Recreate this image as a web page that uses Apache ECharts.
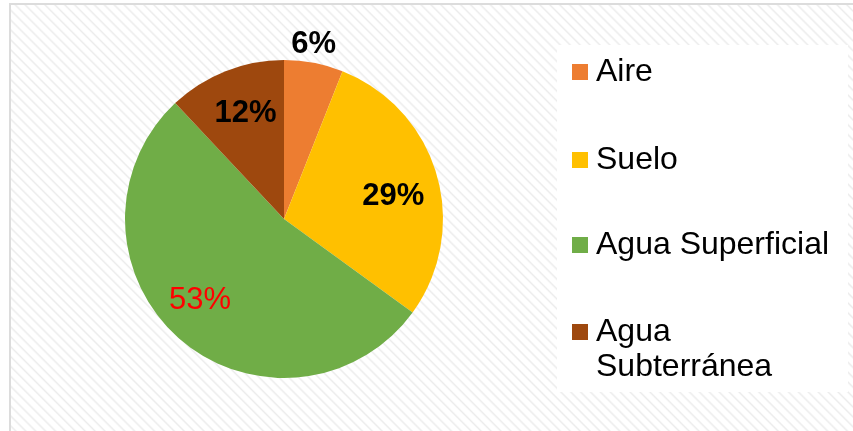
<!DOCTYPE html>
<html>
<head>
<meta charset="utf-8">
<script src="https://cdn.jsdelivr.net/npm/echarts@6/dist/echarts.min.js"></script>
<style>
  html, body { margin: 0; padding: 0; background: #ffffff; }
  #wrap { position: relative; width: 853px; height: 431px; overflow: hidden; }
  #bg {
    position: absolute; left: 9px; top: 3px; width: 870px; height: 450px;
    border: 2px solid #dcdcdc; box-sizing: border-box;
    background: repeating-linear-gradient(45deg, #ffffff 0px, #ffffff 2px, #ececec 3.5px, #ffffff 5px, #ffffff 7px);
  }
  #chart { position: absolute; left: 0; top: 0; width: 853px; height: 431px; }
</style>
</head>
<body>
<div id="wrap">
  <div id="bg"></div>
  <div id="chart"></div>
</div>
<script>
// ---- Data ----
const categories = ['Aire', 'Suelo', 'Agua Superficial', 'Agua Subterránea'];
const values = [6, 29, 53, 12];
const legendLabels = ['Aire', 'Suelo', 'Agua Superficial', 'Agua\nSubterránea'];

// ---- Styles ----
const palette = ['#ED7D31', '#FFC000', '#70AD47', '#9E480E'];
const FONT = '"Liberation Sans", Arial, sans-serif';
const center = [284, 219];
const pieRadius = 159;
// small label nudges (Excel "best fit" placement), in px
const labelNudge = [[-4, 2], [-4, 10], [-6, -7], [5, 4]];

const chart = echarts.init(document.getElementById('chart'), null, { renderer: 'canvas' });

const mainData = categories.map((name, i) => ({
  name: name, value: values[i], itemStyle: { color: palette[i] }
}));

const boldLabel = { color: '#000000', fontFamily: FONT, fontSize: 31, fontWeight: 'bold' };
const redLabel = { color: '#FF0000', fontFamily: FONT, fontSize: 31, fontWeight: 'normal' };

const innerLabelData = categories.map((name, i) => ({
  name: name, value: values[i],
  label: i === 0 ? { show: false } : Object.assign({ show: true }, i === 2 ? redLabel : boldLabel)
}));
const outerLabelData = categories.map((name, i) => ({
  name: name, value: values[i],
  label: i === 0 ? Object.assign({ show: true }, boldLabel) : { show: false }
}));

const iconTops = [64, 152, 237, 324];
const LH = 35;
const legends = categories.map((name, i) => {
  const multi = legendLabels[i].indexOf('\n') >= 0;
  const text = multi ? ' \n' + legendLabels[i] : legendLabels[i];
  const nLines = text.split('\n').length;
  const offset = nLines * LH / 2 - 8;
  return {
    show: true,
    orient: 'vertical',
    left: 572,
    top: iconTops[i] - offset,
    padding: 0,
    itemWidth: 16,
    itemHeight: 16,
    icon: 'rect',
    selectedMode: false,
    data: [name],
    formatter: function () { return text; },
    textStyle: {
      color: '#000000', fontFamily: FONT, fontSize: 32,
      lineHeight: LH, padding: [0, 0, 0, 3]
    }
  };
});

const transparentItem = { color: 'rgba(0,0,0,0)', borderWidth: 0 };
const nudge = function (params) {
  const n = labelNudge[params.dataIndex];
  return { dx: n[0], dy: n[1] };
};

chart.setOption({
  animation: false,
  backgroundColor: 'transparent',
  graphic: [{
    type: 'rect', z: -1, silent: true,
    shape: { x: 557, y: 45, width: 291, height: 347 },
    style: { fill: '#ffffff' }
  }],
  legend: legends,
  series: [
    {
      name: 'main', type: 'pie', center: center, radius: [0, pieRadius],
      startAngle: 90, clockwise: true, silent: true,
      itemStyle: { borderWidth: 0 },
      label: { show: false }, labelLine: { show: false },
      data: mainData
    },
    {
      name: 'labelsInner', type: 'pie', center: center, radius: [0, 230],
      startAngle: 90, clockwise: true, silent: true, legendHoverLink: false,
      itemStyle: transparentItem,
      label: { position: 'inside', formatter: '{c}%' },
      labelLine: { show: false },
      labelLayout: nudge,
      emphasis: { disabled: true },
      data: innerLabelData
    },
    {
      name: 'labelsOuter', type: 'pie', center: center, radius: [0, 354],
      startAngle: 90, clockwise: true, silent: true, legendHoverLink: false,
      itemStyle: transparentItem,
      label: { position: 'inside', formatter: '{c}%' },
      labelLine: { show: false },
      labelLayout: nudge,
      emphasis: { disabled: true },
      data: outerLabelData
    }
  ]
});
</script>
</body>
</html>
